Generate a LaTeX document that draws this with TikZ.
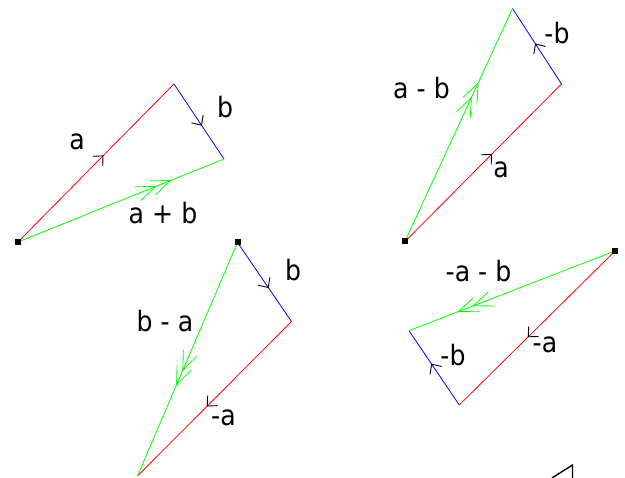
\documentclass[tikz,border=0pt]{standalone}
\usepackage{fontspec}
\setmainfont{DejaVu Sans Condensed}
\usetikzlibrary{decorations.markings}
\tikzset{
  vec/.style={line width=0.8pt},
  arr/.style={postaction={decorate},decoration={markings,mark=at position #1 with {\draw[black,line width=0.9pt] (-7.5,7)--(0,0)--(-7.5,-7);}}},
  darr/.style={postaction={decorate},decoration={markings,mark=at position #1 with {\draw[green,line width=0.8pt] (-19,7.5)--(0,0)--(-19,-7.5) (-35,7.5)--(-16,0)--(-35,-7.5);}}},
  origin/.style={fill=black,minimum size=6pt,inner sep=0pt},
  lbl/.style={font=\fontsize{28}{33}\selectfont,inner sep=0pt}
}
\begin{document}
\begin{tikzpicture}[x=1pt,y=-1pt]
\useasboundingbox (0,0) rectangle (625,478);
% diagram 1
\coordinate (O1) at (18,242);
\coordinate (A1) at (174,84);
\coordinate (B1) at (224,159);
\draw[vec,red,arr=0.545] (O1) -- (A1);
\draw[vec,blue,arr=0.55] (A1) -- (B1);
\draw[vec,green,darr=0.74] (O1) -- (B1);
\node[origin] (s1) at (O1) {};
\node[lbl] (la1) at (77,142) {a};
\node[lbl] (lb1) at (225,107) {b};
\node[lbl] (lab1) at (163,213) {a + b};
% diagram 2
\coordinate (O2) at (405,241.5);
\coordinate (A2) at (561.5,84);
\coordinate (B2) at (512.5,8.5);
\draw[vec,red,arr=0.553] (O2) -- (A2);
\draw[vec,blue,arr=0.53] (A2) -- (B2);
\draw[vec,green,darr=0.68] (O2) -- (B2);
\node[origin] (s2) at (O2) {};
\node[lbl] (la2) at (501,170) {a};
\node[lbl] (lb2) at (557,33) {-b};
\node[lbl] (lab2) at (421.5,88) {a - b};
% diagram 3
\coordinate (O3) at (237.5,242.5);
\coordinate (B3) at (291.5,321.5);
\coordinate (C3) at (137.5,476);
\draw[vec,blue,arr=0.57] (O3) -- (B3);
\draw[vec,red,arr=0.547] (B3) -- (C3);
\draw[vec,green,darr=0.61] (O3) -- (C3);
\node[origin] (s3) at (O3) {};
\node[lbl] (lb3) at (293,270) {b};
\node[lbl] (la3) at (223.5,418) {-a};
\node[lbl] (lab3) at (165,321.5) {b - a};
% diagram 4
\coordinate (O4) at (615,251);
\coordinate (A4) at (459.3,405);
\coordinate (B4) at (409,330.7);
\draw[vec,red,arr=0.557] (O4) -- (A4);
\draw[vec,blue,arr=0.55] (A4) -- (B4);
\draw[vec,green,darr=0.76] (O4) -- (B4);
\node[origin] (s4) at (O4) {};
\node[lbl] (la4) at (545,345) {-a};
\node[lbl] (lb4) at (453,355) {-b};
\node[lbl] (lab4) at (478.5,271.5) {-a - b};
% partial mark at bottom right
\coordinate (m1) at (552,478);
\coordinate (m2) at (572.5,465);
\coordinate (m3) at (572.5,478);
\draw[black,line width=1.4pt] (m1) -- (m2) -- (m3);
\end{tikzpicture}
\end{document}
